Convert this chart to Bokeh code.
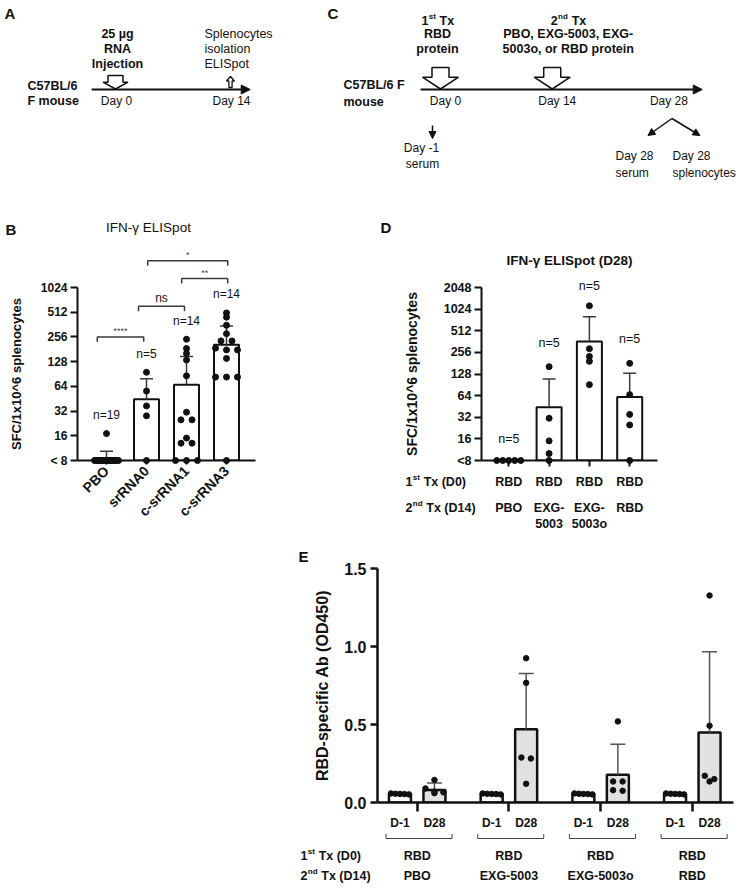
import math
from bokeh.plotting import figure
from bokeh.models import Range1d, LinearScale, FixedTicker, Arrow, NormalHead, PrintfTickFormatter
from bokeh.layouts import column, row
from bokeh.embed import file_html
from bokeh.resources import INLINE
from bokeh.core.properties import value

FONT = "Liberation Sans"
INK = "#111111"
GREY = "#3a3a3a"

# ---------------- data ----------------
a_days = [0, 14]
a_day_text = ["Day 0", "Day 14"]
c_days = [0, 14, 28]
c_day_text = ["Day 0", "Day 14", "Day 28"]
c_serum_day = -1

b_groups = ["PBO", "srRNA0", "c-srRNA1", "c-srRNA3"]
b_n = [19, 5, 14, 14]
b_mean = [8.6, 44.6, 67, 205]
b_err_top = [10.4, 79, 148, 347]
b_pts_pbo = [17] + [8] * 18
b_pts_srrna0 = [95, 56, 37, 28, 8]
b_pts_csrrna1 = [240, 185, 161, 134, 86, 31, 25, 25, 15, 13, 13, 8, 8, 8]
b_pts_csrrna3 = [502, 445, 355, 280, 229, 229, 187, 178, 178, 140, 83, 83, 83, 8]
b_yticks = [8, 16, 32, 64, 128, 256, 512, 1024]
b_sig_pairs = [(0, 1), (1, 2), (2, 3), (1, 3)]
b_sig_text = ["****", "ns", "**", "*"]

d_first = ["RBD", "RBD", "RBD", "RBD"]
d_second = ["PBO", "EXG-5003", "EXG-5003o", "RBD"]
d_n = [5, 5, 5, 5]
d_mean = [8, 44, 363, 61]
d_err_top = [8, 109, 802, 131]
d_pts_pbo = [8, 8, 8, 8, 8]
d_pts_exg5003 = [162, 31, 15, 10, 8]
d_pts_exg5003o = [1137, 288, 225, 192, 91]
d_pts_rbd = [180, 66, 35, 25, 8]
d_yticks = [8, 16, 32, 64, 128, 256, 512, 1024, 2048]

e_first = ["RBD", "RBD", "RBD", "RBD"]
e_second = ["PBO", "EXG-5003", "EXG-5003o", "RBD"]
e_times = ["D-1", "D28"]
e_d1_mean = [0.055, 0.055, 0.055, 0.055]
e_d1_err_top = [0.062, 0.062, 0.062, 0.062]
e_d28_mean = [0.08, 0.47, 0.178, 0.449]
e_d28_err_top = [0.125, 0.827, 0.374, 0.966]
e_d1_pts_pbo = [0.058, 0.056, 0.055, 0.054, 0.052]
e_d1_pts_exg5003 = [0.058, 0.056, 0.055, 0.054, 0.052]
e_d1_pts_exg5003o = [0.058, 0.056, 0.055, 0.054, 0.052]
e_d1_pts_rbd = [0.058, 0.056, 0.055, 0.054, 0.052]
e_d28_pts_pbo = [0.145, 0.09, 0.07, 0.065, 0.06]
e_d28_pts_exg5003 = [0.925, 0.767, 0.288, 0.282, 0.12]
e_d28_pts_exg5003o = [0.52, 0.135, 0.135, 0.079, 0.075]
e_d28_pts_rbd = [1.327, 0.492, 0.171, 0.15, 0.135]
e_yticks = [0.0, 0.5, 1.0, 1.5]

# ---------------- helpers ----------------
BW = {' ': .278, 'T': .611, 'x': .556, '(': .333, ')': .333, 'D': .722,
      's': .556, 't': .333, 'n': .611, 'd': .611}
for _c in "0123456789":
    BW[_c] = .556


def bw(s, size):
    return sum(BW.get(c, .6) for c in s) * size


def txt(p, x, y, s, size=12, bold=False, align="center", baseline="middle",
        xr="rx", yr="ry", color=INK, x_offset=0):
    p.text(x=[x], y=[y], text=[s], x_range_name=xr, y_range_name=yr,
           text_font=value(FONT), text_font_size=value(f"{size}px"),
           text_font_style="bold" if bold else "normal", text_align=align,
           text_baseline=baseline, text_color=color, x_offset=x_offset,
           level="annotation")


def sup_text(p, x, y, base, sup, rest, size, xr="rx", yr="ry", align="left"):
    ssz = size * 0.64
    total = bw(base, size) + bw(sup, ssz) + bw(rest, size)
    x0 = x if align == "left" else x - total / 2
    txt(p, x0, y, base, size, True, "left", xr=xr, yr=yr)
    x1 = x0 + bw(base, size) + 0.3
    txt(p, x1, y - size * 0.3, sup, ssz, True, "left", xr=xr, yr=yr)
    x2 = x1 + bw(sup, ssz) + 0.3
    lead = len(rest) - len(rest.lstrip())
    x2 += bw(" " * lead, size)
    txt(p, x2, y, rest.lstrip(), size, True, "left", xr=xr, yr=yr)


def swarm(vals, to_px, step, row_tol, maxhalf):
    order = sorted(range(len(vals)), key=lambda i: -vals[i])
    rows = []
    for i in order:
        y = to_px(vals[i])
        if rows and abs(rows[-1][0] - y) < row_tol:
            rows[-1][1].append(i)
        else:
            rows.append([y, [i]])
    offs = [0.0] * len(vals)
    for _, members in rows:
        n = len(members)
        if n == 1:
            continue
        half = (n - 1) * step / 2
        s = step if half <= maxhalf else 2 * maxhalf / (n - 1)
        for k, i in enumerate(members):
            offs[i] = (k - (n - 1) / 2) * s
    return offs


def base_fig(w, h, xr, yr, l=0, r=0, t=0, b=0, ylog=False, axes=True):
    kw = {}
    if not axes:
        kw = dict(x_axis_location=None, y_axis_location=None)
    p = figure(width=w, height=h, x_range=xr, y_range=yr,
               y_axis_type="log" if ylog else "linear",
               min_border_left=l, min_border_right=r, min_border_top=t, min_border_bottom=b,
               output_backend="svg", toolbar_location=None, tools="", **kw)
    p.outline_line_color = None
    p.background_fill_color = "white"
    p.border_fill_color = "white"
    p.xgrid.visible = False
    p.ygrid.visible = False
    return p


def style_axis(ax, size, lw=2, tick_out=7, standoff=3):
    ax.axis_line_width = lw
    ax.axis_line_color = INK
    ax.major_tick_line_width = lw
    ax.major_tick_line_color = INK
    ax.major_tick_out = tick_out
    ax.major_tick_in = 0
    ax.minor_tick_line_color = None
    ax.major_label_text_font = FONT
    ax.major_label_text_font_size = f"{size}px"
    ax.major_label_text_font_style = "bold"
    ax.major_label_text_color = INK
    ax.major_label_standoff = standoff
    ax.axis_label_text_font = FONT
    ax.axis_label_text_font_style = "bold"
    ax.axis_label_text_color = INK


def block_arrow(p, day, ppd, top, neck, tip, shaft_hw, head_hw, lw=1.5):
    xs = [day + d / ppd for d in (-shaft_hw, shaft_hw, shaft_hw, head_hw, 0, -head_hw, -shaft_hw, -shaft_hw)]
    ys = [top, top, neck, neck, tip, neck, neck, top]
    p.patch(xs, ys, fill_color="white", line_color=INK, line_width=lw)


def up_arrow(p, day, ppd, tip, neck, bottom, shaft_hw, head_hw, lw=1.3):
    xs = [day + d / ppd for d in (0, head_hw, shaft_hw, shaft_hw, -shaft_hw, -shaft_hw, -head_hw, 0)]
    ys = [tip, neck, neck, bottom, bottom, neck, neck, tip]
    p.patch(xs, ys, fill_color="white", line_color=INK, line_width=lw)


def timeline(p, d0, d1, y, size=9):
    p.add_layout(Arrow(end=NormalHead(size=size, fill_color=INK, line_color=INK, line_width=1),
                       x_start=d0, y_start=y, x_end=d1, y_end=y, line_width=2, line_color=INK))


# ---------------- panel A ----------------
A_OX, A_OY, A_W, A_H = 0, 0, 340, 193
A_X0, A_PPD = 115.0, 8.214
figA = base_fig(A_W, A_H, Range1d((A_OX - A_X0) / A_PPD, (A_OX + A_W - A_X0) / A_PPD),
                Range1d(A_OY + A_H, A_OY), axes=False)
figA.extra_x_ranges = {"rx": Range1d(A_OX, A_OX + A_W)}
figA.extra_x_scales = {"rx": LinearScale()}
txt(figA, 4, 13, "A", 15, True, "left", yr="default")
txt(figA, 327, 13, "C", 15, True, "left", yr="default")
txt(figA, 27, 85, "C57BL/6", 12.5, True, "left", yr="default")
txt(figA, 27, 100, "F mouse", 12.5, True, "left", yr="default")
timeline(figA, a_days[0] - 2.9, a_days[-1] + 2.4, 89)
block_arrow(figA, a_days[0], A_PPD, 75, 81.7, 88.5, 7.5, 12.5)
for yy, s in zip([33, 48, 63], ["25 µg", "RNA", "Injection"]):
    txt(figA, a_days[0], yy, s, 12.5, True, xr="default", yr="default", x_offset=2)
for d, s in zip(a_days, a_day_text):
    txt(figA, d, 100, s, 12, False, xr="default", yr="default", x_offset=1)
up_arrow(figA, a_days[1], A_PPD, 76, 80.5, 87, 1.6, 4)
for yy, s in zip([33, 48, 63], ["Splenocytes", "isolation", "ELISpot"]):
    txt(figA, 204, yy, s, 12.5, False, "left", yr="default")

# ---------------- panel C ----------------
C_OX, C_OY, C_W, C_H = 340, 0, 402, 193
C_X0, C_PPD = 440.0, 7.98
figC = base_fig(C_W, C_H, Range1d((C_OX - C_X0) / C_PPD, (C_OX + C_W - C_X0) / C_PPD),
                Range1d(C_OY + C_H, C_OY), axes=False)
figC.extra_x_ranges = {"rx": Range1d(C_OX, C_OX + C_W)}
figC.extra_x_scales = {"rx": LinearScale()}
txt(figC, 343, 84, "C57BL/6 F", 12.5, True, "left", yr="default")
txt(figC, 343, 101, "mouse", 12.5, True, "left", yr="default")
timeline(figC, c_days[0] - 2.5, c_days[-1] + 4.8, 89)
for d in c_days[:2]:
    block_arrow(figC, d, C_PPD, 67, 76.7, 88.5, 8.5, 18)
sup_text(figC, C_X0 - 3, 20, "1", "st", " Tx", 12.5, yr="default", align="center")
txt(figC, C_X0 - 3, 33, "RBD", 12.5, True, yr="default")
txt(figC, C_X0 - 3, 48, "protein", 12.5, True, yr="default")
c14 = C_X0 + c_days[1] * C_PPD + 16
sup_text(figC, c14, 20, "2", "nd", " Tx", 12.5, yr="default", align="center")
txt(figC, c14, 33, "PBO, EXG-5003, EXG-", 12.5, True, yr="default")
txt(figC, c14, 48, "5003o, or RBD protein", 12.5, True, yr="default")
for d, s in zip(c_days, c_day_text):
    txt(figC, d, 100, s, 12, False, xr="default", yr="default", x_offset=5)
figC.add_layout(Arrow(end=NormalHead(size=7, fill_color=INK, line_color=INK, line_width=1),
                      x_start=c_serum_day, y_start=125, x_end=c_serum_day, y_end=138,
                      line_width=1.5, line_color=INK))
txt(figC, 421, 147, "Day -1", 12, False, yr="default")
txt(figC, 422, 163, "serum", 12, False, yr="default")
c28 = C_X0 + c_days[2] * C_PPD + 8
for dx in (-24, 28):
    figC.add_layout(Arrow(end=NormalHead(size=7, fill_color=INK, line_color=INK, line_width=1),
                          x_start=c28, y_start=118, x_end=c28 + dx, y_end=135,
                          line_width=1.5, line_color=INK, x_range_name="rx"))
txt(figC, 615, 155, "Day 28", 12, False, "left", yr="default")
txt(figC, 615, 172, "serum", 12, False, "left", yr="default")
txt(figC, 672, 155, "Day 28", 12, False, "left", yr="default")
txt(figC, 672, 172, "splenocytes", 12, False, "left", yr="default")

# ---------------- panel B ----------------
B_OX, B_OY, B_W, B_H = 0, 193, 370, 352
B_L, B_R, B_T, B_B = 77, 255, 286, 461
B_XR = (-0.725, 3.725)
B_PPU = (B_R - B_L) / (B_XR[1] - B_XR[0])
B_PPD = (B_B - B_T) / 7.0
figB = base_fig(B_W, B_H, Range1d(*B_XR), Range1d(b_yticks[0], b_yticks[-1]),
                l=B_L - B_OX, r=B_OX + B_W - B_R, t=B_T - B_OY, b=B_OY + B_H - B_B, ylog=True)
figB.extra_x_ranges = {"rx": Range1d(B_L, B_R)}
figB.extra_y_ranges = {"ry": Range1d(B_B, B_T)}
figB.extra_x_scales = {"rx": LinearScale()}
figB.extra_y_scales = {"ry": LinearScale()}
ya = figB.yaxis[0]
style_axis(ya, 12, 2, 7, 3)
ya.ticker = FixedTicker(ticks=b_yticks)
ya.major_label_overrides = {b_yticks[0]: "< 8"}
ya.axis_label = "SFC/1x10^6 splenocytes"
ya.axis_label_text_font_size = "13px"
ya.axis_label_standoff = 14
xa = figB.xaxis[0]
style_axis(xa, 14, 2, 4, 4)
xa.ticker = FixedTicker(ticks=list(range(len(b_groups))))
xa.major_label_overrides = {i: g for i, g in enumerate(b_groups)}
xa.major_label_orientation = math.pi / 4

bx = list(range(len(b_groups)))
figB.vbar(x=bx, width=25 / B_PPU, bottom=b_yticks[0], top=b_mean, fill_color="white",
          line_color=INK, line_width=2)
ex = [x for x, m, e in zip(bx, b_mean, b_err_top) if e > m]
em = [m for m, e in zip(b_mean, b_err_top) if e > m]
ee = [e for m, e in zip(b_mean, b_err_top) if e > m]
figB.segment(x0=ex, y0=em, x1=ex, y1=ee, line_color=GREY, line_width=1.5)
cap = 6.5 / B_PPU
figB.segment(x0=[x - cap for x in ex], y0=ee, x1=[x + cap for x in ex], y1=ee, line_color=GREY, line_width=1.5)
for x, pts in zip(bx, [b_pts_pbo, b_pts_srrna0, b_pts_csrrna1, b_pts_csrrna3]):
    offs = swarm(pts, lambda v: B_PPD * math.log2(v), 11, 4, 12)
    figB.scatter(x=[x + o / B_PPU for o in offs], y=pts, size=6, color=INK, level="annotation")
for x, n, yy in zip(bx, b_n, [415, 353, 320, 293]):
    txt(figB, x, yy, f"n={n}", 12, False, xr="default")
b_sig_y = [336, 305, 277, 259]
b_sig_dx = [(-0.23, -0.07), (-0.2, -0.05), (-0.12, 0.03), (0.03, 0.03)]
for (i, j), s, yy, (dl, dr) in zip(b_sig_pairs, b_sig_text, b_sig_y, b_sig_dx):
    figB.multi_line(xs=[[i + dl, i + dl, j + dr, j + dr]], ys=[[yy + 5, yy, yy, yy + 5]],
                    y_range_name="ry", line_color=GREY, line_width=1.5, level="annotation")
    small = s != "ns"
    txt(figB, (i + dl + j + dr) / 2, yy - (6 if small else 8), s, 9 if small else 12, False,
        xr="default", color="#444444" if small else INK)
txt(figB, 5, 227, "B", 15, True, "left")
txt(figB, 148, 225, "IFN-γ ELISpot", 13.5, False)

# ---------------- panel D ----------------
D_OX, D_OY, D_W, D_H = 370, 193, 372, 352
D_L, D_R, D_T, D_B = 481, 657, 287, 460
D_C0, D_PPU = 508.3, 40.3
D_XR = ((D_L - D_C0) / D_PPU, (D_R - D_C0) / D_PPU)
D_PPD = (D_B - D_T) / 8.0
figD = base_fig(D_W, D_H, Range1d(*D_XR), Range1d(d_yticks[0], d_yticks[-1]),
                l=D_L - D_OX, r=D_OX + D_W - D_R, t=D_T - D_OY, b=D_OY + D_H - D_B, ylog=True)
figD.extra_x_ranges = {"rx": Range1d(D_L, D_R)}
figD.extra_y_ranges = {"ry": Range1d(D_B, D_T)}
figD.extra_x_scales = {"rx": LinearScale()}
figD.extra_y_scales = {"ry": LinearScale()}
ya = figD.yaxis[0]
style_axis(ya, 12.5, 2, 7, 3)
ya.ticker = FixedTicker(ticks=d_yticks)
ya.major_label_overrides = {d_yticks[0]: "<8"}
ya.axis_label = "SFC/1x10^6 splenocytes"
ya.axis_label_text_font_size = "14px"
ya.axis_label_standoff = 21
xa = figD.xaxis[0]
style_axis(xa, 12.5, 2, 6, 8)
xa.ticker = FixedTicker(ticks=list(range(len(d_second))))
xa.major_label_overrides = {i: s for i, s in enumerate(d_first)}

dx_ = list(range(len(d_second)))
figD.vbar(x=dx_, width=25 / D_PPU, bottom=d_yticks[0], top=d_mean, fill_color="white",
          line_color=INK, line_width=2)
ex = [x for x, m, e in zip(dx_, d_mean, d_err_top) if e > m]
em = [m for m, e in zip(d_mean, d_err_top) if e > m]
ee = [e for m, e in zip(d_mean, d_err_top) if e > m]
figD.segment(x0=ex, y0=em, x1=ex, y1=ee, line_color=GREY, line_width=1.5)
cap = 6.5 / D_PPU
figD.segment(x0=[x - cap for x in ex], y0=ee, x1=[x + cap for x in ex], y1=ee, line_color=GREY, line_width=1.5)
for x, pts in zip(dx_, [d_pts_pbo, d_pts_exg5003, d_pts_exg5003o, d_pts_rbd]):
    offs = swarm(pts, lambda v: D_PPD * math.log2(v), 11, 4, 12)
    figD.scatter(x=[x + o / D_PPU for o in offs], y=pts, size=6, color=INK, level="annotation")
for x, n, yy in zip(dx_, d_n, [438, 342, 285, 338]):
    txt(figD, x, yy, f"n={n}", 12.5, False, xr="default")
sup_text(figD, 405, 481, "1", "st", " Tx (D0)", 12.5)
sup_text(figD, 405, 507, "2", "nd", " Tx (D14)", 12.5)
for x, s in zip(dx_, d_second):
    if "-" in s:
        a, b = s.split("-", 1)
        txt(figD, x, 507, a + "-", 12.5, True, xr="default")
        txt(figD, x, 523, b, 12.5, True, xr="default")
    else:
        txt(figD, x, 507, s, 12.5, True, xr="default")
txt(figD, 380, 227, "D", 15, True, "left")
txt(figD, 569, 260, "IFN-γ ELISpot (D28)", 13.5, True)

# ---------------- panel E ----------------
E_OX, E_OY, E_W, E_H = 0, 545, 742, 342
E_L, E_R, E_T, E_B = 377, 733, 568, 802
E_C0, E_PPU = 416.7, 91.7
E_XR = ((E_L - E_C0) / E_PPU, (E_R - E_C0) / E_PPU)
E_PPY = (E_B - E_T) / (e_yticks[-1] - e_yticks[0])
figE = base_fig(E_W, E_H, Range1d(*E_XR), Range1d(e_yticks[0], e_yticks[-1]),
                l=E_L - E_OX, r=E_OX + E_W - E_R, t=E_T - E_OY, b=E_OY + E_H - E_B)
figE.extra_x_ranges = {"rx": Range1d(E_L, E_R)}
figE.extra_y_ranges = {"ry": Range1d(E_B, E_T)}
figE.extra_x_scales = {"rx": LinearScale()}
figE.extra_y_scales = {"ry": LinearScale()}
ya = figE.yaxis[0]
style_axis(ya, 16, 2.5, 7, 4)
ya.ticker = FixedTicker(ticks=e_yticks)
ya.formatter = PrintfTickFormatter(format="%.1f")
ya.axis_label = "RBD-specific Ab (OD450)"
ya.axis_label_text_font_size = "16px"
ya.axis_label_standoff = 10
xa = figE.xaxis[0]
style_axis(xa, 12.5, 2.5, 9, 37)
xa.ticker = FixedTicker(ticks=list(range(len(e_second))))
xa.major_label_overrides = {i: s for i, s in enumerate(e_first)}

E_SH = 17.25 / E_PPU
gx = list(range(len(e_second)))
x1 = [g - E_SH for g in gx]
x28 = [g + E_SH for g in gx]
figE.vbar(x=x1, width=22 / E_PPU, bottom=0, top=e_d1_mean, fill_color="white", line_color=INK, line_width=2.5)
figE.vbar(x=x28, width=22 / E_PPU, bottom=0, top=e_d28_mean, fill_color="#e1e1e1", line_color=INK, line_width=2.5)
cap = 7.5 / E_PPU
for xs_, ms, es in [(x1, e_d1_mean, e_d1_err_top), (x28, e_d28_mean, e_d28_err_top)]:
    figE.segment(x0=xs_, y0=ms, x1=xs_, y1=es, line_color="#555555", line_width=1.5)
    figE.segment(x0=[x - cap for x in xs_], y0=es, x1=[x + cap for x in xs_], y1=es,
                 line_color="#555555", line_width=1.5)
for xs_, groups in [(x1, [e_d1_pts_pbo, e_d1_pts_exg5003, e_d1_pts_exg5003o, e_d1_pts_rbd]),
                    (x28, [e_d28_pts_pbo, e_d28_pts_exg5003, e_d28_pts_exg5003o, e_d28_pts_rbd])]:
    for x, pts in zip(xs_, groups):
        offs = swarm(pts, lambda v: E_PPY * v, 9.5, 4, 9)
        figE.scatter(x=[x + o / E_PPU for o in offs], y=pts, size=5.5, color=INK, level="annotation")
for g in gx:
    txt(figE, g - E_SH, 822, e_times[0], 12, True, xr="default")
    txt(figE, g + E_SH, 822, e_times[1], 12, True, xr="default")
figE.multi_line(xs=[[g - 0.34, g - 0.34, g + 0.38, g + 0.38] for g in gx],
                ys=[[833.5, 838, 838, 833.5] for g in gx], y_range_name="ry",
                line_color="#444444", line_width=1, level="annotation")
for g, s in zip(gx, e_second):
    txt(figE, g, 875, s, 12.5, True, xr="default")
sup_text(figE, 300, 855, "1", "st", " Tx (D0)", 12.5)
sup_text(figE, 300, 875, "2", "nd", " Tx (D14)", 12.5)
txt(figE, 298, 556, "E", 15, True, "left")

layout = column(row(figA, figC), row(figB, figD), figE)
open("out.html", "w").write(file_html(layout, INLINE))
